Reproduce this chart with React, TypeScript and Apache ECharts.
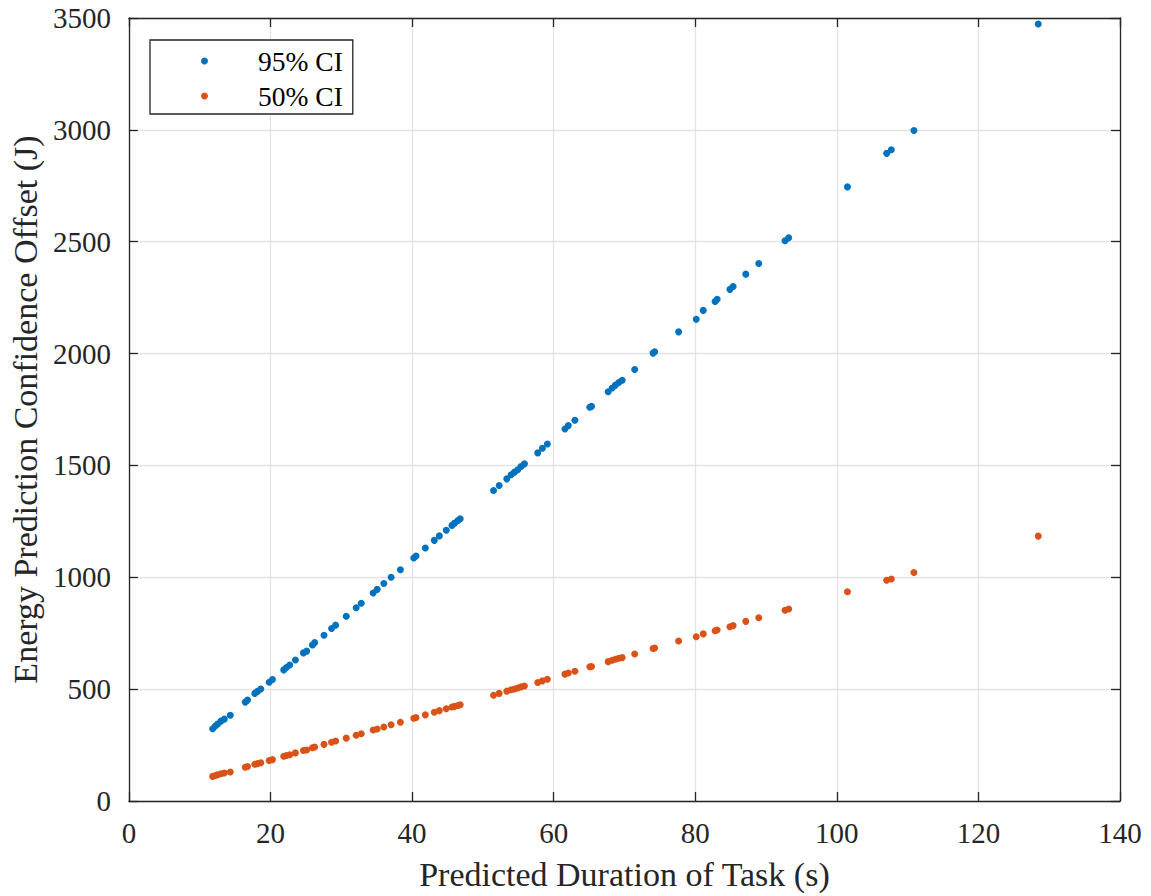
import React, { useEffect, useRef } from "react";
import * as echarts from "echarts";

const durations: number[] = [
  11.83, 12.21, 12.54, 13.0, 13.48, 14.32, 16.44, 16.76, 17.79, 18.17,
  18.63, 19.82, 20.28, 21.87, 22.25, 22.72, 23.52, 24.65, 25.11, 25.92,
  26.24, 27.56, 28.63, 29.2, 30.7, 32.11, 32.82, 34.51, 35.07, 36.01,
  37.04, 38.35, 40.24, 40.56, 41.87, 43.14, 43.85, 44.83, 45.63, 46.01,
  46.48, 46.8, 51.51, 52.3, 53.38, 53.99, 54.46, 54.93, 55.39, 55.87,
  57.75, 58.41, 59.11, 61.59, 62.07, 63.0, 65.11, 65.35, 67.7, 68.27,
  68.73, 69.2, 69.68, 71.45, 74.04, 74.27, 77.65, 80.14, 81.13, 82.8,
  83.1, 84.9, 85.35, 87.14, 88.97, 92.68, 93.2, 101.5, 107.04, 107.7,
  110.89, 128.45,
];

const ci95: number[] = [
  323, 335, 344, 357, 366, 383, 442, 451, 481, 490,
  501, 531, 543, 586, 597, 608, 630, 662, 670, 697,
  708, 741, 771, 786, 826, 864, 884, 930, 946, 972,
  1000, 1034, 1086, 1095, 1131, 1165, 1185, 1210, 1232, 1242,
  1254, 1262, 1388, 1410, 1440, 1458, 1470, 1481, 1495, 1507,
  1556, 1577, 1596, 1663, 1678, 1702, 1760, 1764, 1829, 1846,
  1859, 1871, 1881, 1929, 2002, 2008, 2097, 2153, 2193, 2233,
  2243, 2287, 2300, 2355, 2403, 2504, 2518, 2745, 2895, 2911,
  2997, 3473,
];

const ci50: number[] = [
  110, 114, 117, 122, 125, 130, 151, 154, 164, 167,
  171, 181, 185, 200, 203, 207, 215, 226, 228, 238,
  241, 253, 263, 268, 281, 294, 301, 317, 322, 331,
  341, 352, 370, 373, 385, 397, 404, 412, 420, 423,
  427, 430, 473, 481, 491, 497, 501, 505, 510, 514,
  530, 537, 544, 567, 572, 580, 600, 601, 623, 629,
  634, 638, 641, 657, 682, 684, 715, 734, 747, 761,
  764, 779, 784, 803, 819, 853, 858, 935, 987, 992,
  1021, 1184,
];

const seriesNames = ["95% CI", "50% CI"];
const xTitle = "Predicted Duration of Task (s)";
const yTitle = "Energy Prediction Confidence Offset (J)";

const FONT = "'Liberation Serif', 'Times New Roman', serif";
const INK = "#262626";

export default function App() {
  const ref = useRef<HTMLDivElement>(null);
  useEffect(() => {
    if (!ref.current) return;
    const chart = echarts.init(ref.current, null, { renderer: "svg" });
    const tickLabel = { color: INK, fontFamily: FONT, fontSize: 29 };
    const axisLine = { show: true, onZero: false, lineStyle: { color: INK, width: 1.3 } };
    const axisTick = { show: true, inside: true, length: 9, lineStyle: { color: INK, width: 1.3 } };
    const plain = (v: number) => String(v);
    chart.setOption({
      animation: false,
      backgroundColor: "#ffffff",
      grid: { left: 125, right: 31, top: 18, bottom: 93, containLabel: false },
      legend: {
        left: 150,
        top: 40,
        orient: "vertical",
        data: seriesNames,
        icon: "circle",
        itemWidth: 7,
        itemHeight: 7,
        itemGap: 7,
        textStyle: {
          fontFamily: FONT,
          fontSize: 27.5,
          color: "#000",
          lineHeight: 28,
          padding: [0, 0, 0, 45],
        },
        backgroundColor: "#ffffff",
        borderColor: INK,
        borderWidth: 1.3,
        borderRadius: 0,
        padding: [7, 10, 4, 51],
      },
      xAxis: [
        {
          type: "value",
          min: 0,
          max: 140,
          interval: 20,
          position: "bottom",
          name: xTitle,
          nameLocation: "middle",
          nameGap: 56,
          nameTextStyle: { fontFamily: FONT, fontSize: 34, color: INK },
          axisLine,
          axisTick,
          axisLabel: { ...tickLabel, margin: 17, formatter: plain },
          splitLine: { show: true, lineStyle: { color: "#e3e3e3", width: 1.3 } },
        },
        {
          type: "value",
          min: 0,
          max: 140,
          interval: 20,
          position: "top",
          axisLine,
          axisTick,
          axisLabel: { show: false },
          splitLine: { show: false },
        },
      ],
      yAxis: [
        {
          type: "value",
          min: 0,
          max: 3500,
          interval: 500,
          position: "left",
          name: yTitle,
          nameLocation: "middle",
          nameGap: 81,
          nameTextStyle: { fontFamily: FONT, fontSize: 34, color: INK },
          axisLine,
          axisTick,
          axisLabel: { ...tickLabel, margin: 18, formatter: plain },
          splitLine: { show: true, lineStyle: { color: "#e3e3e3", width: 1.3 } },
        },
        {
          type: "value",
          min: 0,
          max: 3500,
          interval: 500,
          position: "right",
          axisLine,
          axisTick,
          axisLabel: { show: false },
          splitLine: { show: false },
        },
      ],
      series: [
        {
          name: seriesNames[0],
          type: "scatter",
          symbol: "circle",
          symbolSize: 7,
          itemStyle: { color: "#0072BD", opacity: 1 },
          data: durations.map((d, i) => [d, ci95[i]]),
        },
        {
          name: seriesNames[1],
          type: "scatter",
          symbol: "circle",
          symbolSize: 7,
          itemStyle: { color: "#D95319", opacity: 1 },
          data: durations.map((d, i) => [d, ci50[i]]),
        },
      ],
    });
    return () => chart.dispose();
  }, []);
  return (
    <div
      ref={ref}
      style={{ position: "fixed", left: 0, top: 0, width: 1151, height: 896 }}
    />
  );
}
